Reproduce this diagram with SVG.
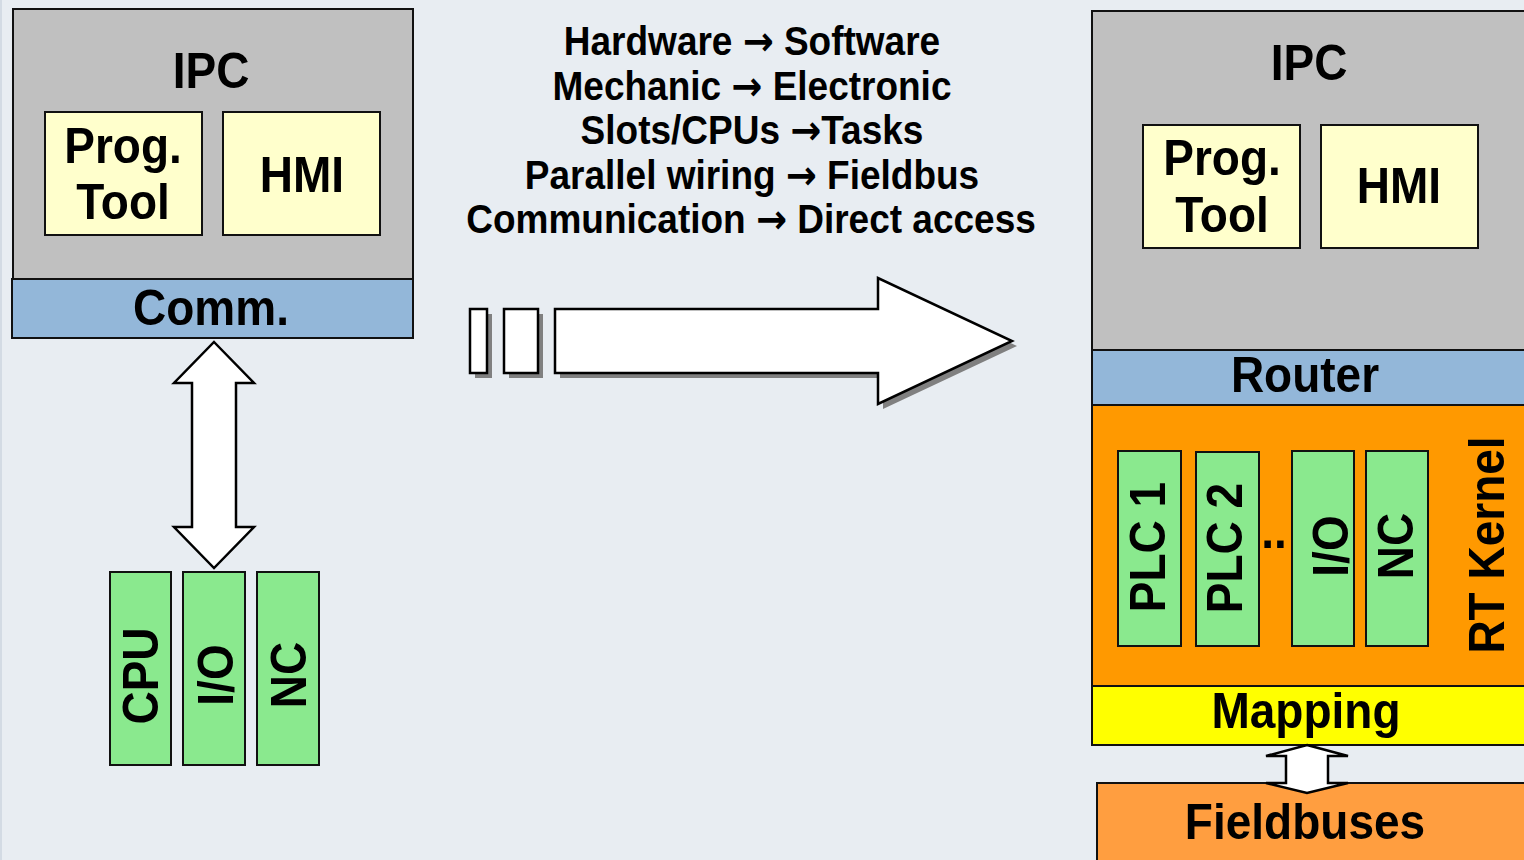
<svg xmlns="http://www.w3.org/2000/svg" width="1524" height="860" viewBox="0 0 1524 860">
  <style>
    .box { stroke: #111; stroke-width: 2; }
    .gray { fill: #c0c0c0; }
    .blue { fill: #93b7d9; }
    .cream { fill: #ffffcc; }
    .green { fill: #8ae98e; }
    .orange { fill: #ff9900; }
    .yellow { fill: #ffff00; }
    .bus { fill: #ff9e40; }
    .lbl { font-family: "Liberation Sans", Arial, sans-serif; font-weight: bold; font-size: 46px; text-anchor: middle; fill: #000; }
    .note { font-family: "Liberation Sans", Arial, sans-serif; font-weight: bold; font-size: 37px; text-anchor: middle; fill: #000; }
    .to { font-family: "DejaVu Sans", sans-serif; font-weight: bold; font-size: 37px; }
    .arrow { fill: #fff; stroke: #000; stroke-width: 2.5; stroke-linejoin: miter; }
    .shadow { fill: #808080; }
  </style>

  <!-- background -->
  <rect x="0" y="0" width="1524" height="860" fill="#e8edf2"/>
  <rect x="0" y="0" width="2" height="860" fill="#d3dbe4"/>

  <!-- classic IPC (left) -->
  <g id="ipc-left">
    <rect class="box gray" x="13" y="9" width="400" height="270"/>
    <text class="lbl" transform="translate(211,88) scale(1,1.09)">IPC</text>
  </g>
  <g id="progtool-left">
    <rect class="box cream" x="45" y="112" width="157" height="123"/>
    <text class="lbl" transform="translate(123,163) scale(1,1.09)">Prog.</text>
    <text class="lbl" transform="translate(123,219) scale(1,1.09)">Tool</text>
  </g>
  <g id="hmi-left">
    <rect class="box cream" x="223" y="112" width="157" height="123"/>
    <text class="lbl" transform="translate(302,192) scale(1,1.09)">HMI</text>
  </g>
  <g id="comm">
    <rect class="box blue" x="12" y="279" width="401" height="59"/>
    <text class="lbl" transform="translate(211,325) scale(1,1.09)">Comm.</text>
  </g>

  <!-- hardware cards (left) -->
  <g id="cpu">
    <rect class="box green" x="110" y="572" width="61" height="193"/>
    <text class="lbl" transform="translate(158,676) rotate(-90) scale(1,1.09)">CPU</text>
  </g>
  <g id="io-left">
    <rect class="box green" x="183" y="572" width="62" height="193"/>
    <text class="lbl" transform="translate(233,675) rotate(-90) scale(1,1.09)">I/O</text>
  </g>
  <g id="nc-left">
    <rect class="box green" x="257" y="572" width="62" height="193"/>
    <text class="lbl" transform="translate(306,675) rotate(-90) scale(1,1.09)">NC</text>
  </g>

  <!-- transition list -->
  <g id="transitions">
    <text class="note" transform="translate(752,55) scale(1,1.09)">Hardware <tspan class="to">→</tspan> Software</text>
    <text class="note" transform="translate(752,99.5) scale(1,1.09)">Mechanic <tspan class="to">→</tspan> Electronic</text>
    <text class="note" transform="translate(752,144) scale(1,1.09)">Slots/CPUs <tspan class="to">→</tspan>Tasks</text>
    <text class="note" transform="translate(752,188.5) scale(1,1.09)">Parallel wiring <tspan class="to">→</tspan> Fieldbus</text>
    <text class="note" transform="translate(751,233) scale(1,1.09)">Communication <tspan class="to">→</tspan> Direct access</text>
  </g>

  <!-- software-based IPC (right) -->
  <g id="ipc-right">
    <rect class="box gray" x="1092" y="11" width="440" height="339"/>
    <text class="lbl" transform="translate(1309,80) scale(1,1.09)">IPC</text>
  </g>
  <g id="progtool-right">
    <rect class="box cream" x="1143" y="125" width="157" height="123"/>
    <text class="lbl" transform="translate(1222,175) scale(1,1.09)">Prog.</text>
    <text class="lbl" transform="translate(1222,232) scale(1,1.09)">Tool</text>
  </g>
  <g id="hmi-right">
    <rect class="box cream" x="1321" y="125" width="157" height="123"/>
    <text class="lbl" transform="translate(1399,203) scale(1,1.09)">HMI</text>
  </g>
  <g id="router">
    <rect class="box blue" x="1092" y="350" width="440" height="55"/>
    <text class="lbl" transform="translate(1305,392) scale(1,1.09)">Router</text>
  </g>
  <g id="rt-kernel">
    <rect class="box orange" x="1092" y="405" width="440" height="281"/>
    <text class="lbl" transform="translate(1504,545) rotate(-90) scale(1,1.09)">RT Kernel</text>
    <text class="lbl" transform="translate(1274,548) scale(1,1.09)">..</text>
  </g>
  <g id="plc1">
    <rect class="box green" x="1118" y="451" width="63" height="195"/>
    <text class="lbl" transform="translate(1165,547) rotate(-90) scale(1,1.09)">PLC 1</text>
  </g>
  <g id="plc2">
    <rect class="box green" x="1196" y="452" width="63" height="194"/>
    <text class="lbl" transform="translate(1242,548) rotate(-90) scale(1,1.09)">PLC 2</text>
  </g>
  <g id="io-right">
    <rect class="box green" x="1292" y="451" width="62" height="195"/>
    <text class="lbl" transform="translate(1348,546) rotate(-90) scale(1,1.09)">I/O</text>
  </g>
  <g id="nc-right">
    <rect class="box green" x="1366" y="451" width="62" height="195"/>
    <text class="lbl" transform="translate(1413,546) rotate(-90) scale(1,1.09)">NC</text>
  </g>
  <g id="mapping">
    <rect class="box yellow" x="1092" y="686" width="440" height="59"/>
    <text class="lbl" transform="translate(1306,728) scale(1,1.09)">Mapping</text>
  </g>
  <g id="fieldbuses">
    <rect class="box bus" x="1097" y="783" width="440" height="90"/>
    <text class="lbl" transform="translate(1305,839) scale(1,1.09)">Fieldbuses</text>
  </g>

  <!-- connectors -->
  <g id="connectors">
    <!-- Comm. to hardware cards -->
    <path class="arrow" d="M214,342 L254,383 L236,383 L236,527 L254,527 L214,568 L174,527 L192,527 L192,383 L174,383 Z"/>
    <!-- Mapping to fieldbuses -->
    <path class="arrow" d="M1307,745 L1348,756 L1328,756 L1328,783 L1348,783 L1307,793 L1266,783 L1286,783 L1286,756 L1266,756 Z"/>
    <!-- transition arrow with drop shadow -->
    <g id="transition-arrow">
      <rect class="shadow" x="475" y="314" width="17" height="64"/>
      <rect class="shadow" x="509" y="314" width="34" height="64"/>
      <path class="shadow" d="M560,314 L883,314 L883,283 L1017,346 L883,409 L883,378 L560,378 Z"/>
      <rect class="arrow" x="470" y="309" width="17" height="64" stroke-width="2"/>
      <rect class="arrow" x="504" y="309" width="34" height="64" stroke-width="2"/>
      <path class="arrow" stroke-width="2" d="M555,309 L878,309 L878,278 L1012,341 L878,404 L878,373 L555,373 Z"/>
    </g>
  </g>
</svg>
